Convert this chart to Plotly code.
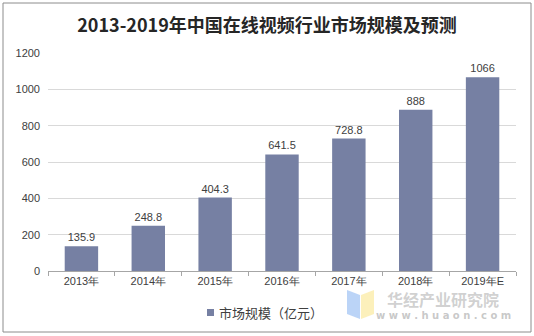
import plotly.graph_objects as go

categories = ["2013年", "2014年", "2015年", "2016年", "2017年", "2018年", "2019年E"]
values = [135.9, 248.8, 404.3, 641.5, 728.8, 888, 1066]
value_labels = ["135.9", "248.8", "404.3", "641.5", "728.8", "888", "1066"]
series_name = "市场规模（亿元）"
title_text = "2013-2019年中国在线视频行业市场规模及预测"
y_ticks = [0, 200, 400, 600, 800, 1000, 1200]

BAR_COLOR = "#7680A3"
L, R, T, B = 48, 18, 53, 65
PW, PH = 534 - L - R, 336 - T - B


def px(x):
    return (x - L) / PW


def py(y):
    return (336 - B - y) / PH


fig = go.Figure()
fig.add_trace(go.Bar(
    x=categories, y=values, name=series_name,
    text=value_labels, textposition="outside", cliponaxis=False,
    textfont=dict(family="Liberation Sans, Arial", size=11, color="#404040"),
    marker=dict(color=BAR_COLOR, line=dict(width=0)),
    showlegend=False,
))

fig.update_layout(
    width=534, height=336,
    margin=dict(l=L, r=R, t=T, b=B),
    paper_bgcolor="white", plot_bgcolor="white",
    bargap=0.5,
    title=dict(text="<b>" + title_text + "</b>", x=0.5, xanchor="center", y=0.925, yanchor="middle",
               font=dict(family="Noto Sans CJK SC", size=18, color="#262626")),
    xaxis=dict(
        showline=True, linecolor="#A6A6A6", linewidth=1,
        ticks="outside", tickson="boundaries", ticklen=4, tickcolor="#A6A6A6",
        tickfont=dict(family="Liberation Sans, Arial", size=11, color="#404040"),
        showgrid=False,
    ),
    yaxis=dict(
        range=[0, 1200], tickvals=y_ticks, showline=False,
        showgrid=True, gridcolor="#D9D9D9", gridwidth=1,
        ticks="", zeroline=False, ticklabelstandoff=7,
        tickfont=dict(family="Liberation Sans, Arial", size=11, color="#404040"),
    ),
    showlegend=False,
    shapes=[
        dict(type="rect", xref="paper", yref="paper",
             x0=px(3), x1=px(531), y0=py(332), y1=py(3),
             line=dict(color="#8C8C8C", width=1), fillcolor="rgba(0,0,0,0)", layer="below"),
        # legend marker
        dict(type="rect", xref="paper", yref="paper",
             x0=px(207), x1=px(214), y0=py(316), y1=py(309),
             line=dict(width=0), fillcolor=BAR_COLOR),
        # watermark logo
        dict(type="path", xref="paper", yref="paper",
             path="M %f %f L %f %f L %f %f L %f %f Z" % (
                 px(347), py(290), px(360), py(295), px(360), py(319), px(347), py(314)),
             fillcolor="rgba(120,170,240,0.5)", line=dict(width=0)),
        dict(type="path", xref="paper", yref="paper",
             path="M %f %f L %f %f L %f %f L %f %f Z" % (
                 px(361), py(295), px(374), py(290), px(374), py(314), px(361), py(319)),
             fillcolor="rgba(250,225,120,0.5)", line=dict(width=0)),
    ],
    annotations=[
        dict(text=series_name, xref="paper", yref="paper",
             x=px(217), y=py(312.5), xanchor="left", yanchor="middle", showarrow=False,
             font=dict(family="Noto Sans CJK SC", size=13, color="#404040")),
        dict(text="<b>华经产业研究院</b>", xref="paper", yref="paper",
             x=px(443), y=py(299), xanchor="center", yanchor="middle", showarrow=False,
             font=dict(family="Noto Sans CJK SC", size=16, color="rgba(170,170,170,0.55)")),
        dict(text="<b>w w w . h u a o n . c o m</b>", xref="paper", yref="paper",
             x=px(443), y=py(315), xanchor="center", yanchor="middle", showarrow=False,
             font=dict(family="DejaVu Sans", size=10, color="rgba(170,170,170,0.65)")),
    ],
)

fig.write_html("out.html")
